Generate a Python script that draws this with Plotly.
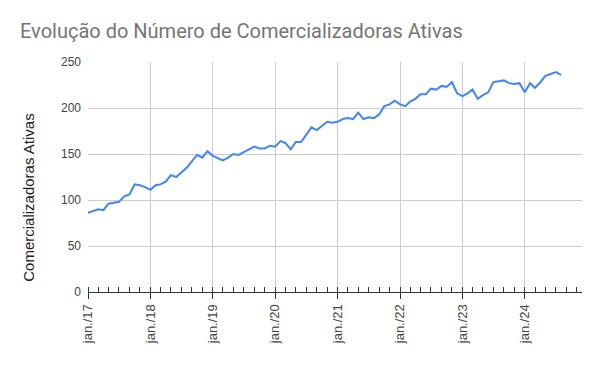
import plotly.graph_objects as go
import pandas as pd

start_month = "2017-01-01"
values = [86, 88, 90, 89, 96, 97, 98, 104, 106, 117, 116, 114,
          111, 116, 117, 120, 127, 125, 130, 135, 142, 149, 146, 153,
          148, 145, 143, 146, 150, 149, 152, 155, 158, 156, 156, 159,
          158, 164, 162, 155, 163, 163, 171, 179, 176, 180, 185, 184,
          185, 188, 189, 188, 195, 188, 190, 189, 193, 202, 204, 208,
          204, 202, 207, 210, 215, 215, 221, 220, 224, 223, 228, 216,
          213, 216, 220, 210, 214, 217, 228, 229, 230, 227, 226, 227,
          217, 227, 222, 228, 235, 237, 239, 236]
dates = pd.date_range(start_month, periods=len(values), freq="MS")
tick_vals = pd.date_range("2017-01-01", "2024-01-01", freq="YS")
tick_text = ["jan./%02d" % (d.year % 100) for d in tick_vals]
y_ticks = [0, 50, 100, 150, 200, 250]

# page body has an 8px margin; figure is sized/offset to compensate
W, H = 592, 363
L, R, T, B = 80.3, 18.3, 53.7, 79

fig = go.Figure()
fig.add_trace(go.Scatter(x=dates, y=values, mode="lines",
                         line=dict(color="#4285F4", width=2), hoverinfo="x+y"))

fig.update_layout(
    width=W, height=H,
    margin=dict(l=L, r=R, t=T, b=B, autoexpand=False),
    paper_bgcolor="white", plot_bgcolor="white",
    showlegend=False,
    font=dict(family="Liberation Sans, Arial, sans-serif", color="#444", size=12),
    title=dict(text="Evolução do Número de Comercializadoras Ativas",
               x=12/W, xanchor="left", xref="container",
               y=1-23/H, yanchor="middle", yref="container",
               pad=dict(l=0, r=0, t=0, b=0),
               font=dict(family="Roboto, Liberation Sans, Arial", size=20, color="#757575")),
    xaxis=dict(
        type="date", range=["2017-01-01", "2024-12-01"], automargin=False,
        tickvals=tick_vals, ticktext=tick_text, tickangle=-90,
        showgrid=True, gridcolor="#cccccc", gridwidth=1,
        showline=True, linecolor="#333", linewidth=1,
        ticks="outside", ticklen=6, tickcolor="#333",
        minor=dict(ticks="inside", ticklen=5, tickcolor="#333",
                   dtick="M2", tick0="2017-01-01", showgrid=False),
        tickfont=dict(size=13, color="#444"),
        zeroline=False,
    ),
    yaxis=dict(
        range=[0, 250], tickvals=y_ticks, automargin=False,
        showgrid=True, gridcolor="#cccccc", gridwidth=1,
        zeroline=False, showline=False, ticks="",
        ticklabelstandoff=6,
        tickfont=dict(size=12, color="#444"),
    ),
    annotations=[dict(text="Comercializadoras Ativas", textangle=-90,
                      xref="paper", yref="paper",
                      x=(20 - L) / (W - L - R), y=(H - B - 190) / (H - B - T),
                      xanchor="center", yanchor="middle", showarrow=False,
                      font=dict(size=15, color="#222"))],
)

fig.write_html("out.html")
